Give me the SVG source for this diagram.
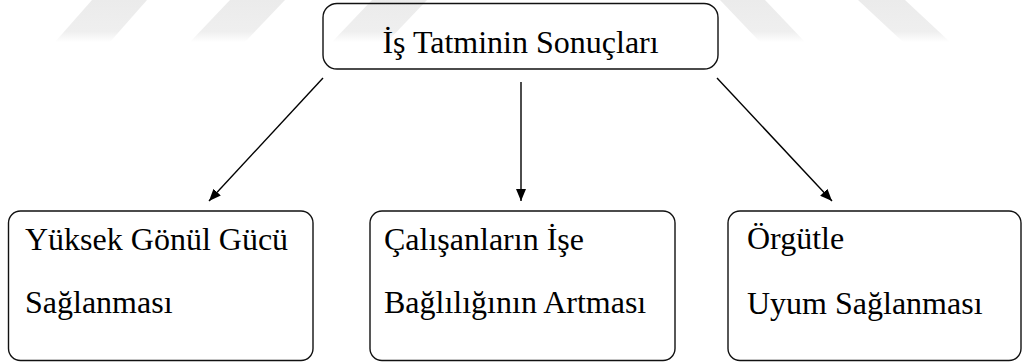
<svg xmlns="http://www.w3.org/2000/svg" width="1023" height="362" viewBox="0 0 1023 362">
  <style>
    .box { fill: none; stroke: #111; stroke-width: 1.4; }
    .label { font-size: 32px; fill: #000; }
    .link { stroke: #000; stroke-width: 1.4; fill: none; marker-end: url(#head); }
    .band { fill: url(#fade); }
  </style>
  <defs>
    <marker id="head" viewBox="0 0 12 10" refX="12" refY="5" markerWidth="12" markerHeight="10" markerUnits="userSpaceOnUse" orient="auto">
      <path d="M0,0 L12,5 L0,10 Z" fill="#000"/>
    </marker>
    <linearGradient id="fade" x1="0" y1="0" x2="0" y2="1">
      <stop offset="0" stop-color="#ebebeb"/>
      <stop offset="0.75" stop-color="#efefef"/>
      <stop offset="1" stop-color="#ffffff"/>
    </linearGradient>
  </defs>

  <rect width="1023" height="362" fill="#fff"/>

  <!-- faint background stripes -->
  <g id="backdrop">
    <polygon class="band" points="92,0 147,0 110,42 55,42"/>
    <polygon class="band" points="230,0 285,0 245,42 190,42"/>
    <polygon class="band" points="372,0 427,0 387,42 332,42"/>
    <polygon class="band" points="720,0 765,0 805,42 760,42"/>
    <polygon class="band" points="858,0 905,0 950,42 903,42"/>
  </g>

  <g id="connectors">
    <line class="link" x1="323" y1="78" x2="209" y2="201"/>
    <line class="link" x1="521" y1="82" x2="521" y2="201"/>
    <line class="link" x1="717" y1="78" x2="832" y2="201"/>
  </g>

  <g font-family="Liberation Serif, serif">
    <g id="node-root">
      <rect class="box" x="323" y="3.5" width="395" height="65.5" rx="14"/>
      <text class="label" x="520.5" y="53" text-anchor="middle">İş Tatminin Sonuçları</text>
    </g>

    <g id="node-morale">
      <rect class="box" x="8.5" y="211" width="304.5" height="149.5" rx="12"/>
      <text class="label" x="25" y="250">Yüksek Gönül Gücü</text>
      <text class="label" x="25" y="313">Sağlanması</text>
    </g>

    <g id="node-commitment">
      <rect class="box" x="370" y="211" width="305" height="149.5" rx="12"/>
      <text class="label" x="384" y="250">Çalışanların İşe</text>
      <text class="label" x="384" y="313">Bağlılığının Artması</text>
    </g>

    <g id="node-harmony">
      <rect class="box" x="728" y="211" width="293" height="149.5" rx="12"/>
      <text class="label" x="747" y="249">Örgütle</text>
      <text class="label" x="747" y="314">Uyum Sağlanması</text>
    </g>
  </g>
</svg>
